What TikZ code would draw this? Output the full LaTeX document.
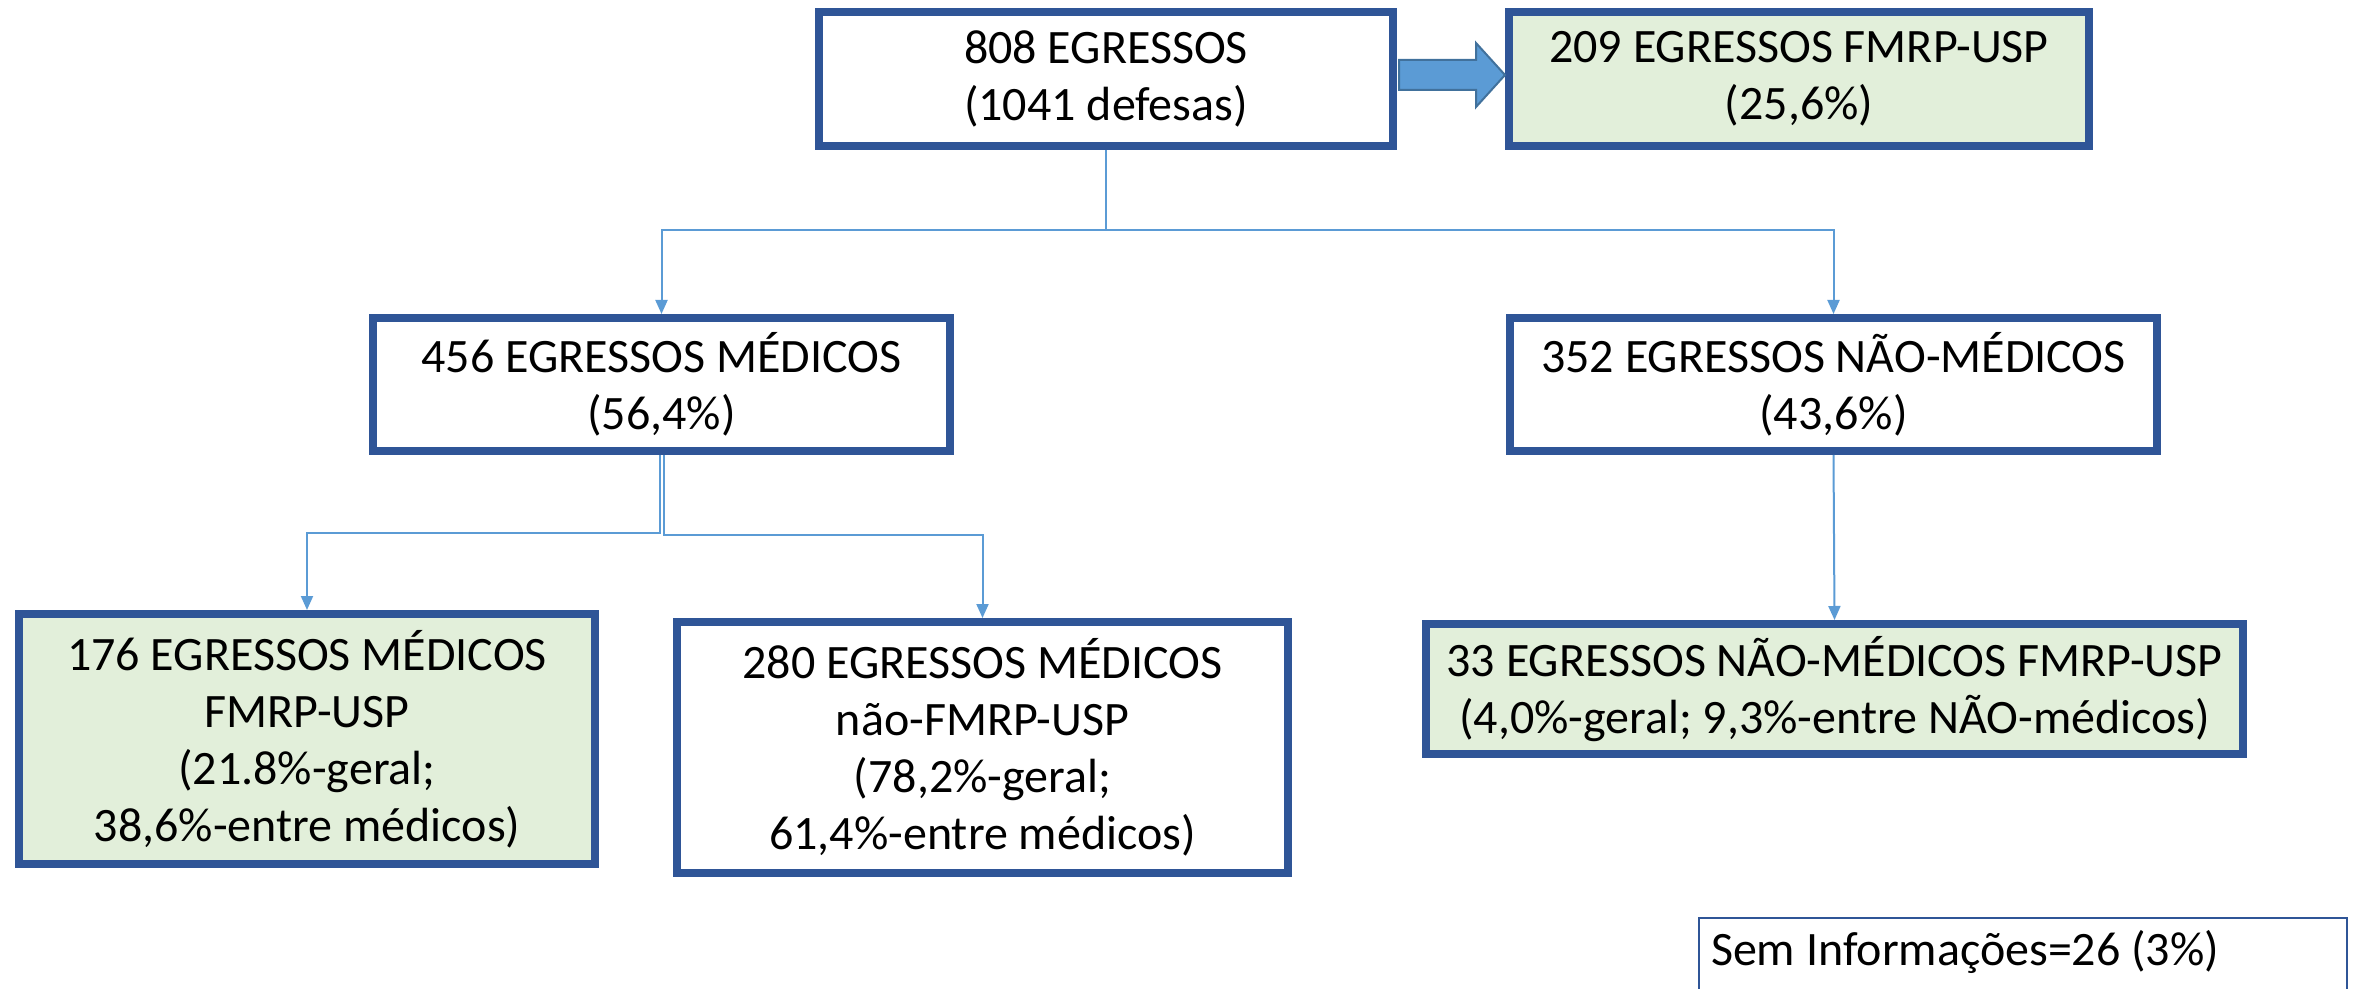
\documentclass[tikz,border=0pt]{standalone}
\usepackage{fontspec}
\setmainfont{Carlito}
\usetikzlibrary{arrows.meta,calc}
\definecolor{boxblue}{HTML}{2F5597}
\definecolor{connblue}{HTML}{5B9BD5}
\definecolor{arrowedge}{HTML}{41719C}
\definecolor{lightgreen}{HTML}{E2EFDA}
\tikzset{
  box/.style={draw=boxblue, line width=4pt, fill=white, align=center, inner sep=0pt,
    font=\fontsize{24}{28.5}\selectfont},
  greenbox/.style={box, fill=lightgreen},
  conn/.style={draw=connblue, line width=1pt, -{Triangle[width=6pt,length=7pt]}},
  blockarrow/.style={fill=connblue, draw=arrowedge, line width=1pt, line join=miter},
}
\begin{document}
\begin{tikzpicture}[x=0.5pt,y=-0.5pt]
\useasboundingbox (0,0) rectangle (2361,989);
\clip (0,0) rectangle (2361,989);

% nodes
\node[box, minimum width=287pt, minimum height=67pt] (top) at (1106,79) {808 EGRESSOS\\(1041 defesas)};
\node[greenbox, minimum width=290pt, minimum height=67pt] (fmrp) at (1799,79) {209 EGRESSOS FMRP-USP\\(25,6\%)};
\node[box, minimum width=288.5pt, minimum height=66.5pt] (med) at (661.5,384.5) {456 EGRESSOS MÉDICOS\\(56,4\%)};
\node[box, minimum width=323.5pt, minimum height=66.5pt] (nmed) at (1833.5,384.5) {352 EGRESSOS NÃO-MÉDICOS\\(43,6\%)};
\node[greenbox, minimum width=288pt, minimum height=125pt] (medf) at (307,739) {176 EGRESSOS MÉDICOS\\FMRP-USP\\(21.8\%-geral;\\38,6\%-entre médicos)};
\node[box, minimum width=305.5pt, minimum height=125.5pt] (mednf) at (982.5,747.5) {280 EGRESSOS MÉDICOS\\não-FMRP-USP\\(78,2\%-geral;\\61,4\%-entre médicos)};
\node[greenbox, minimum width=408.5pt, minimum height=65pt] (nmedf) at (1834.5,689) {33 EGRESSOS NÃO-MÉDICOS FMRP-USP\\(4,0\%-geral; 9,3\%-entre NÃO-médicos)};
\node[draw=boxblue, line width=1pt, anchor=north west, inner xsep=6pt, inner ysep=0pt,
  text height=23.5pt, text depth=30pt, font=\fontsize{24}{28.5}\selectfont]
  (sem) at (1698,917) {\makebox[312pt][l]{Sem Informações=26 (3\%)}};

% block arrow
\path[blockarrow]
  ($(top.east)+(2,-19)$) -- ($(fmrp.west)+(-29,-19)$) -- ($(fmrp.west)+(-29,-36)$)
  -- ($(fmrp.west)+(0,-4)$) -- ($(fmrp.west)+(-29,28)$) -- ($(fmrp.west)+(-29,11)$)
  -- ($(top.east)+(2,11)$) -- cycle;

% junctions
\coordinate (j1) at (1107,230);
\coordinate (j2) at (658,533);

% connectors
\draw[conn] (top.south) -- (top.south |- j1) -| (med.north);
\draw[conn] (top.south) -- (top.south |- j1) -| (nmed.north);
\draw[conn] ([xshift=-1pt]med.south) -- ([xshift=-1pt]med.south |- j2) -| (medf.north);
\draw[conn] ([xshift=1pt]med.south) -- ([xshift=1pt,yshift=-1pt]med.south |- j2) -| (mednf.north);
\draw[conn] (nmed.south) -- (nmedf.north);
\end{tikzpicture}
\end{document}
